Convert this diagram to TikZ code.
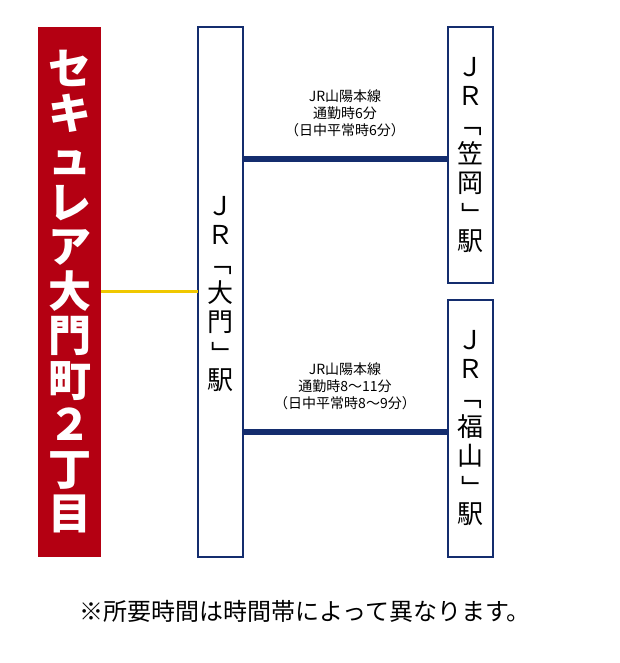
\documentclass[tikz,border=0pt]{standalone}
\usepackage{fontspec}
\usepackage{graphicx}
\setmainfont{Noto Sans CJK JP}
\definecolor{darkred}{RGB}{180,0,18}
\definecolor{navy}{RGB}{20,45,110}
\definecolor{gold}{RGB}{240,200,0}
\newcommand{\vopen}{\rotatebox[origin=c]{-90}{「}}
\newcommand{\vclose}{\rotatebox[origin=c]{-90}{」}}
\begin{document}
\begin{tikzpicture}[x=1pt,y=-1pt,
  station/.style={draw=navy, line width=2pt, fill=white},
  line/.style={draw=navy, line width=6pt},
  walk/.style={draw=gold, line width=3pt},
  vname/.style={align=center, font=\fontsize{26}{29}\selectfont},
  info/.style={align=center, font=\fontsize{14}{17}\selectfont}
  ]
  \useasboundingbox (0,0) rectangle (620,663);
  % site
  \fill[darkred] (38,27) rectangle (101,557);
  \node[align=center, text=white, font=\fontsize{43}{44.5}\bfseries\selectfont] (site) at (69.5,292)
    {セ\\キ\\ュ\\レ\\ア\\大\\門\\町\\２\\丁\\目};
  % stations
  \draw[station] (198,27) rectangle (243,557);
  \draw[station] (448,27) rectangle (493,283);
  \draw[station] (448,300) rectangle (493,557);
  \coordinate (daimonL) at (198,291);
  \coordinate (siteR) at (101,291);
  \coordinate (daimonA) at (243,159);
  \coordinate (daimonB) at (243,432);
  \coordinate (kasaoka) at (448,159);
  \coordinate (fukuyama) at (448,432);
  \node[vname] (daimon) at (220.5,294) {Ｊ\\Ｒ\\\vopen\\大\\門\\\vclose\\駅};
  \node[vname] (kasaokaname) at (470.5,155) {Ｊ\\Ｒ\\\vopen\\笠\\岡\\\vclose\\駅};
  \node[vname] (fukuyamaname) at (470.5,428) {Ｊ\\Ｒ\\\vopen\\福\\山\\\vclose\\駅};
  % connections
  \draw[walk] (siteR) -- (daimonL);
  \draw[line] (daimonA) -- (kasaoka);
  \draw[line] (daimonB) -- (fukuyama);
  \node[info] (infoA) at (345,113) {JR山陽本線\\通勤時6分\\（日中平常時6分）};
  \node[info] (infoB) at (345,386) {JR山陽本線\\通勤時8～11分\\（日中平常時8～9分）};
  \node[font=\fontsize{24}{28}\selectfont] (note) at (305,611) {※所要時間は時間帯によって異なります。};
\end{tikzpicture}
\end{document}
